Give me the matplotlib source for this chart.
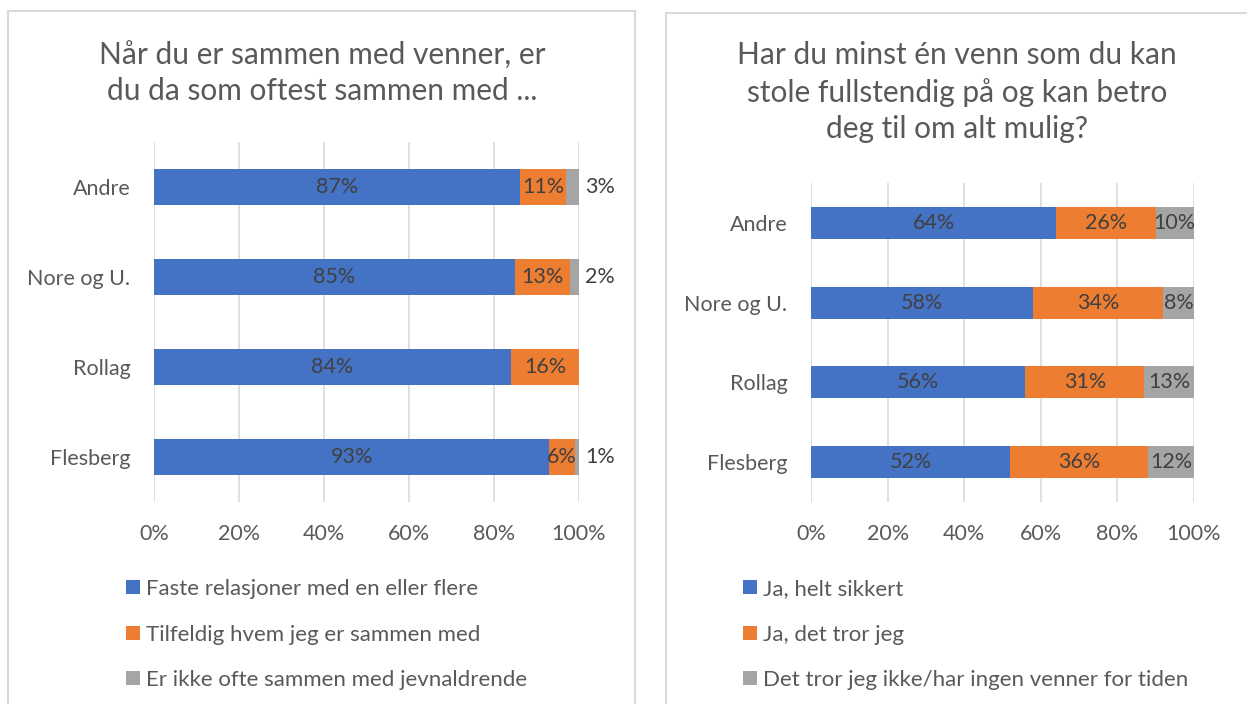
import numpy as np
import matplotlib.pyplot as plt
from matplotlib.patches import Rectangle

plt.rcParams['font.family'] = ['Lato', 'DejaVu Sans']

# data (bottom to top as drawn)
places = ['Flesberg', 'Rollag', 'Nore og U.', 'Andre']

left_title = 'Når du er sammen med venner, er\ndu da som oftest sammen med ...'
left_names = ['Faste relasjoner med en eller flere',
              'Tilfeldig hvem jeg er sammen med',
              'Er ikke ofte sammen med jevnaldrende']
left_faste = [93, 84, 85, 87]
left_tilf = [6, 16, 13, 11]
left_ikke = [1, 0, 2, 3]

right_title = 'Har du minst én venn som du kan\nstole fullstendig på og kan betro\ndeg til om alt mulig?'
right_names = ['Ja, helt sikkert', 'Ja, det tror jeg',
               'Det tror jeg ikke/har ingen venner for tiden']
right_ja = [52, 56, 58, 64]
right_tror = [36, 31, 34, 26]
right_nei = [12, 13, 8, 10]

colors = ['#4472C4', '#ED7D31', '#A5A5A5']
txt_col = '#595959'
lab_col = '#404040'

W, H = 1247, 704
fig = plt.figure(figsize=(W / 100, H / 100), dpi=100)

# panel borders
fig.patches.append(Rectangle((8 / W, -0.1), (635 - 8) / W, 1.1 - 11 / H,
                             transform=fig.transFigure, fill=False,
                             ec='#D9D9D9', lw=1.5))
fig.patches.append(Rectangle((666 / W, -0.1), 0.5, 1.1 - 12.5 / H,
                             transform=fig.transFigure, fill=False,
                             ec='#D9D9D9', lw=1.5))


def stacked(ax, series, outside_last):
    series = np.array(series, dtype=float)
    shares = series / series.sum(axis=0) * 100
    y = np.arange(len(places))
    left = np.zeros(len(places))
    bars = []
    for k in range(len(series)):
        b = ax.barh(y, shares[k], 0.4, left=left, color=colors[k], zorder=3)
        bars.append(b)
        for i in range(len(places)):
            v = series[k][i]
            if v == 0:
                continue
            if outside_last and k == len(series) - 1:
                ax.text(101.5, y[i], f'{v:.0f}%', ha='left', va='center',
                        fontsize=15.5, color=lab_col)
            else:
                ax.text(left[i] + shares[k][i] / 2, y[i], f'{v:.0f}%',
                        ha='center', va='center', fontsize=15.5, color=lab_col,
                        zorder=4)
        left = left + shares[k]
    ax.set_xlim(0, 100)
    ax.set_ylim(-0.5, len(places) - 0.5)
    ax.set_xticks(np.arange(0, 101, 20))
    ax.set_xticklabels([f'{t}%' for t in range(0, 101, 20)])
    ax.set_yticks(y)
    ax.set_yticklabels(places)
    ax.grid(axis='x', color='#D9D9D9', lw=1.2, zorder=0)
    for s in ax.spines.values():
        s.set_visible(False)
    ax.tick_params(axis='both', length=0, labelsize=15.5, labelcolor=txt_col)
    ax.tick_params(axis='y', pad=17)
    ax.tick_params(axis='x', pad=16)
    return bars


ax1 = fig.add_axes([154 / W, 1 - 502 / H, (579 - 154) / W, 360 / H])
b1 = stacked(ax1, [left_faste, left_tilf, left_ikke], True)
ax2 = fig.add_axes([811 / W, 1 - 502 / H, (1194 - 811) / W, 319 / H])
b2 = stacked(ax2, [right_ja, right_tror, right_nei], False)

fig.text(322 / W, 1 - 73 / H, left_title, ha='center', va='center',
         fontsize=21.5, color=txt_col, linespacing=1.3)
fig.text(957 / W, 1 - 92 / H, right_title, ha='center', va='center',
         fontsize=21.5, color=txt_col, linespacing=1.36)

for handles, names, x0 in [(b1, left_names, 126), (b2, right_names, 743)]:
    fig.legend([b[0] for b in handles], names, loc='upper left',
               bbox_to_anchor=(x0 / W, 1 - 579 / H), frameon=False,
               fontsize=16, labelcolor=txt_col, handlelength=0.62,
               handleheight=0.62, handletextpad=0.3, labelspacing=1.15,
               borderpad=0, borderaxespad=0)

fig.savefig('out.png', dpi=100)
